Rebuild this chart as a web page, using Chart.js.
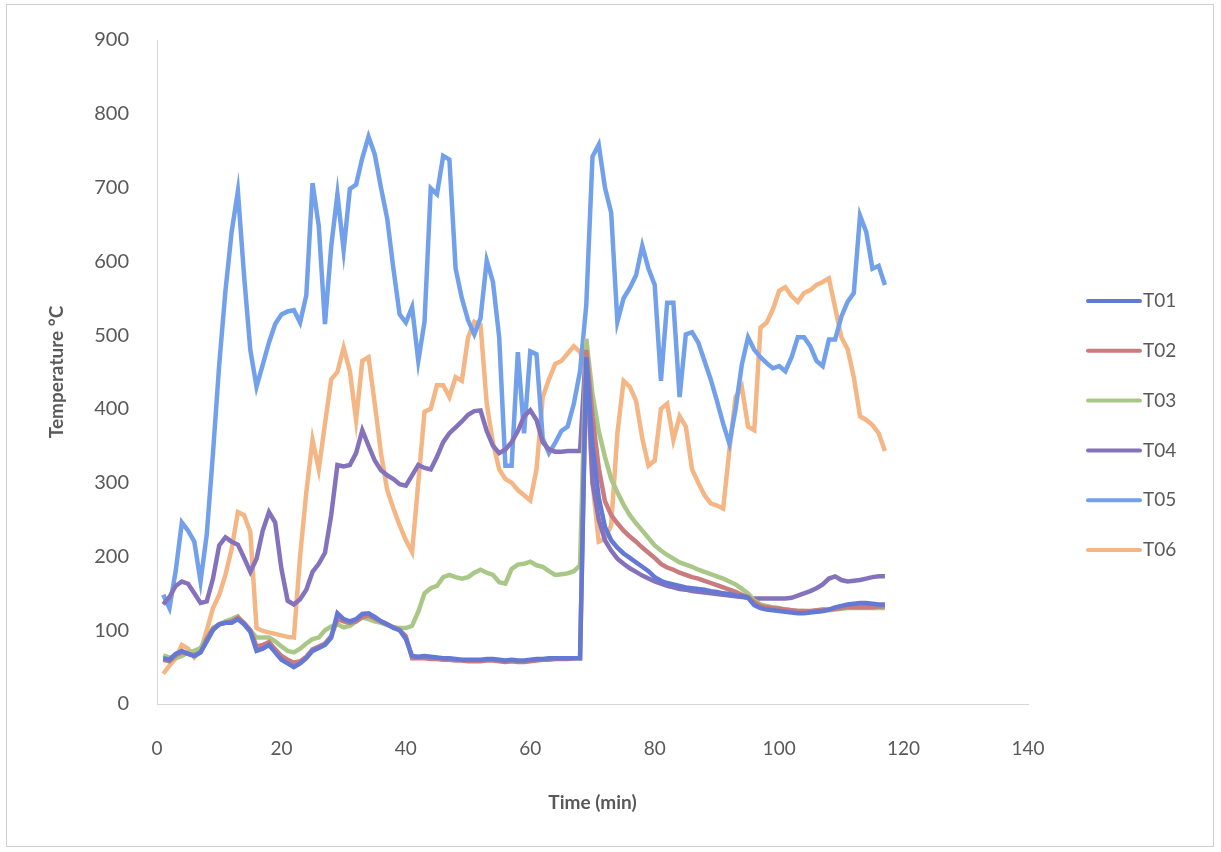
<!DOCTYPE html>
<html>
<head>
<meta charset="utf-8">
<title>Temperature</title>
<script src="https://cdn.jsdelivr.net/npm/chart.js@4.4.1/dist/chart.umd.min.js"></script>
<style>
  html, body { margin: 0; padding: 0; background: #fff; }
  #wrap { position: relative; width: 1221px; height: 852px; }
</style>
</head>
<body>
<div id="wrap"><canvas id="tempChart" width="1221" height="852"></canvas></div>
<script>
// tempo (min)
const times = [1,2,3,4,5,6,7,8,9,10,11,12,13,14,15,16,17,18,19,20,21,22,23,24,25,26,27,28,29,30,
  31,32,33,34,35,36,37,38,39,40,41,42,43,44,45,46,47,48,49,50,51,52,53,54,55,56,57,58,59,60,
  61,62,63,64,65,66,67,68,69,70,71,72,73,74,75,76,77,78,79,80,81,82,83,84,85,86,87,88,89,90,
  91,92,93,94,95,96,97,98,99,100,101,102,103,104,105,106,107,108,109,110,111,112,113,114,115,116,117];

const seriesNames = ['T01', 'T02', 'T03', 'T04', 'T05', 'T06'];

const t01 = [62,60,68,72,68,65,70,85,100,108,110,110,115,108,98,72,75,80,70,60,55,50,55,62,72,76,80,90,123,115,
  112,115,122,123,118,112,108,103,100,88,65,64,65,64,63,62,62,61,60,60,60,60,61,61,60,59,60,59,59,60,
  61,61,62,62,62,62,62,62,470,350,280,240,222,212,204,198,192,186,180,172,167,164,162,160,158,157,156,155,153,152,
  150,149,147,146,144,134,130,128,127,126,125,124,123,123,124,125,126,128,131,133,135,136,137,137,136,135,135];

const t02 = [60,58,66,70,68,66,70,88,102,108,110,112,117,110,100,78,80,84,74,65,60,56,58,64,74,78,82,92,115,112,
  110,112,118,120,116,112,108,104,100,92,62,62,62,61,61,60,60,59,59,58,58,58,59,59,58,57,58,57,57,58,
  59,60,60,61,61,61,62,62,480,390,320,275,256,245,235,227,220,212,205,198,190,185,182,178,175,172,170,167,164,161,
  158,155,152,148,145,138,133,131,130,129,128,127,126,126,126,127,128,128,129,130,131,131,131,131,131,132,132];

const t03 = [66,63,62,65,70,72,76,90,103,108,112,115,119,108,100,90,90,90,85,78,72,70,75,82,88,90,100,105,108,104,
  106,112,117,115,112,110,107,104,103,103,106,125,150,157,160,172,175,172,170,172,178,182,178,175,165,163,183,189,190,193,
  188,186,180,175,176,177,180,188,495,420,370,335,305,287,270,256,245,235,225,215,208,202,197,192,189,186,182,179,176,173,
  170,166,162,156,150,140,135,133,131,130,128,127,126,126,125,125,126,127,128,129,130,130,130,130,130,130,130];

const t04 = [135,145,160,166,163,150,137,139,170,215,226,220,216,198,179,197,235,260,246,183,140,135,142,155,179,190,205,256,324,322,
  324,340,371,350,330,317,310,305,298,296,310,324,320,318,335,355,367,375,383,392,397,398,370,350,340,345,355,370,390,398,
  385,355,345,342,342,343,343,343,487,300,250,222,208,197,190,184,179,174,170,166,163,160,158,156,155,153,152,151,150,149,
  148,147,146,145,144,143,143,143,143,143,143,144,147,150,153,157,162,170,173,168,166,167,168,170,172,173,173];

const t05 = [148,130,180,246,235,220,166,230,340,460,560,640,695,580,480,430,460,490,515,528,532,534,517,554,706,648,515,620,691,615,
  698,704,740,769,745,700,658,590,528,517,538,465,518,699,691,743,738,590,550,520,501,523,601,572,497,323,323,477,367,478,
  474,360,340,354,370,376,407,451,541,742,758,700,666,518,550,564,581,621,590,568,438,544,544,416,501,504,490,465,440,411,
  380,353,400,460,497,480,470,462,455,458,451,470,497,497,485,465,458,494,494,525,545,557,662,640,590,594,568];

const t06 = [41,52,62,80,75,63,72,100,130,148,175,210,260,256,233,103,99,97,95,93,91,90,200,287,358,318,380,440,450,483,
  451,385,465,470,407,340,290,265,242,222,206,300,396,400,432,432,416,443,438,497,518,514,407,354,318,305,300,290,283,276,
  318,416,440,461,465,475,485,477,451,300,220,224,242,367,438,430,411,360,323,330,400,407,358,390,376,318,300,283,272,269,
  265,344,416,430,376,371,510,517,535,560,565,553,545,557,561,568,572,577,537,497,481,443,390,385,378,367,343];

const allSeries = [t01, t02, t03, t04, t05, t06];
const seriesColors = ['#6379d4', '#c97b7d', '#a9c787', '#8572bd', '#72a0ea', '#f4b685'];

const xTicks = [0, 20, 40, 60, 80, 100, 120, 140];
const yTicks = [0, 100, 200, 300, 400, 500, 600, 700, 800, 900];

const textGray = '#595959';
const axisGray = '#d6d6d6';
const fontName = 'Lato, "Open Sans", sans-serif';

// legenda e moldura desenhadas à direita, como no original
const sideLegend = {
  id: 'sideLegend',
  afterDraw(chart) {
    const ctx = chart.ctx;
    ctx.save();
    ctx.strokeStyle = '#d0d0d0';
    ctx.lineWidth = 1;
    ctx.strokeRect(6.5, 4.5, 1207, 842);

    ctx.font = '19px ' + fontName;
    ctx.textBaseline = 'middle';
    ctx.textAlign = 'left';
    chart.data.datasets.forEach((ds, i) => {
      const y = 301 + i * 49.8;
      ctx.strokeStyle = ds.borderColor;
      ctx.lineWidth = 4;
      ctx.lineCap = 'round';
      ctx.beginPath();
      ctx.moveTo(1088, y);
      ctx.lineTo(1140, y);
      ctx.stroke();
      ctx.fillStyle = textGray;
      ctx.fillText(ds.label, 1143, y);
    });
    ctx.restore();
  }
};

const datasets = seriesNames.map((name, i) => ({
  label: name,
  data: times.map((t, k) => ({ x: t, y: allSeries[i][k] })),
  borderColor: seriesColors[i],
  backgroundColor: seriesColors[i],
  borderWidth: 4.5,
  pointRadius: 0,
  tension: 0,
  fill: false
}));

const ctx = document.getElementById('tempChart').getContext('2d');
new Chart(ctx, {
  type: 'line',
  data: { datasets: datasets },
  options: {
    responsive: false,
    animation: false,
    layout: { padding: { left: 0, top: 32, right: 193, bottom: 0 } },
    plugins: {
      legend: { display: false },
      tooltip: { enabled: false }
    },
    scales: {
      x: {
        type: 'linear',
        min: 0,
        max: 140,
        afterBuildTicks: (scale) => { scale.ticks = xTicks.map(v => ({ value: v })); },
        afterFit: (scale) => { scale.height = 148; },
        grid: { display: false, drawTicks: false },
        border: { display: true, color: axisGray, width: 1 },
        ticks: { color: textGray, font: { family: fontName, size: 19 }, padding: 33, maxRotation: 0 },
        title: {
          display: true,
          text: 'Time (min)',
          color: textGray,
          font: { family: fontName, size: 19, weight: 'bold' },
          padding: { top: 0, bottom: 38 }
        }
      },
      y: {
        type: 'linear',
        min: 0,
        max: 900,
        afterBuildTicks: (scale) => { scale.ticks = yTicks.map(v => ({ value: v })); },
        afterFit: (scale) => { scale.width = 157; },
        grid: { display: false, drawTicks: false },
        border: { display: true, color: axisGray, width: 1 },
        ticks: { color: textGray, font: { family: fontName, size: 20 }, padding: 28 },
        title: {
          display: true,
          text: 'Temperature °C',
          color: textGray,
          font: { family: fontName, size: 19, weight: 'bold' },
          padding: { top: 45, bottom: 0 }
        }
      }
    }
  },
  plugins: [sideLegend]
});
</script>
</body>
</html>
